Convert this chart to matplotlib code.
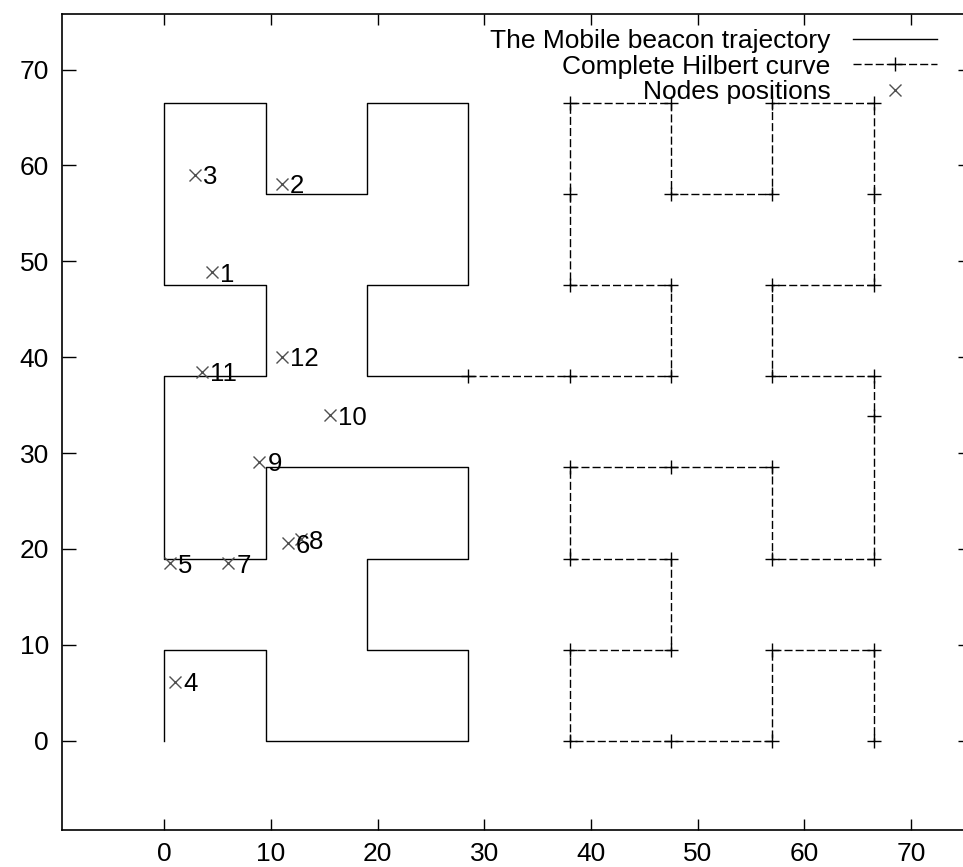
import matplotlib
matplotlib.use("Agg")
import matplotlib.pyplot as plt

plt.rcParams['font.family'] = ['Liberation Sans', 'DejaVu Sans']

# ---- data ----
series_labels = ["The Mobile beacon trajectory", "Complete Hilbert curve", "Nodes positions"]

traj_x = [0, 0, 9.5, 9.5, 19, 28.5, 28.5, 19, 19, 28.5, 28.5, 19, 9.5, 9.5, 0, 0,
          0, 9.5, 9.5, 0, 0, 0, 9.5, 9.5, 19, 19, 28.5, 28.5, 28.5, 19, 19, 28.5]
traj_y = [0, 9.5, 9.5, 0, 0, 0, 9.5, 9.5, 19, 19, 28.5, 28.5, 28.5, 19, 19, 28.5,
          38, 38, 47.5, 47.5, 57, 66.5, 66.5, 57, 57, 66.5, 66.5, 57, 47.5, 47.5, 38, 38]

hil_x = [28.5, 38, 47.5, 47.5, 38, 38, 38, 47.5, 47.5, 57, 57, 66.5, 66.5, 66.5, 57, 57,
         66.5, 66.5, 66.5, 57, 57, 47.5, 38, 38, 47.5, 47.5, 38, 38, 47.5, 57, 57, 66.5, 66.5]
hil_y = [38, 38, 38, 47.5, 47.5, 57, 66.5, 66.5, 57, 57, 66.5, 66.5, 57, 47.5, 47.5, 38,
         38, 33.9, 19, 19, 28.5, 28.5, 28.5, 19, 19, 9.5, 9.5, 0, 0, 0, 9.5, 9.5, 0]

node_ids = ["1", "2", "3", "4", "5", "6", "7", "8", "9", "10", "11", "12"]
node_x = [4.45, 11.0, 2.85, 1.0, 0.53, 11.6, 6.0, 12.8, 8.9, 15.5, 3.5, 11.0]
node_y = [48.9, 58.1, 59.05, 6.15, 18.5, 20.6, 18.5, 21.0, 29.1, 33.95, 38.5, 40.05]

x_ticks = [0, 10, 20, 30, 40, 50, 60, 70]
y_ticks = [0, 10, 20, 30, 40, 50, 60, 70]

# ---- figure ----
fig = plt.figure(figsize=(9.63, 8.67), dpi=100)
ax = fig.add_axes([0.0647, 0.04268, 1.0090 - 0.0647, 0.98385 - 0.04268])

ax.plot(traj_x, traj_y, color='black', lw=1.0, label=series_labels[0])
ax.plot(hil_x, hil_y, color='black', lw=1.0, ls=(0, (5.8, 2.2)),
        marker='+', ms=10, mew=1.0, label=series_labels[1])
ax.plot(node_x, node_y, ls='none', marker='x', ms=8, mew=1.0,
        color='#505050', label=series_labels[2])

for lbl, x, y in zip(node_ids, node_x, node_y):
    ax.annotate(lbl, (x, y), xytext=(5.8, -7), textcoords='offset points',
                ha='left', va='baseline', fontsize=18.5, color='black')

ax.set_xlim(-9.57, 75.7)
ax.set_ylim(-9.31, 75.8)
ax.set_xticks(x_ticks)
ax.set_yticks(y_ticks)
ax.tick_params(direction='in', top=True, right=True, labelsize=19, width=1.0,
               colors='black')
ax.tick_params(axis='x', length=8, pad=9)
ax.tick_params(axis='y', length=10, pad=9.5)
for s in ax.spines.values():
    s.set_linewidth(1.2)

ax.legend(loc='upper right', bbox_to_anchor=(0.9622, 0.98125), markerfirst=False,
          frameon=False, fontsize=19, handlelength=3.2, handletextpad=0.85,
          labelspacing=0.05, borderpad=0, borderaxespad=0)

fig.savefig('out.png', dpi=100)
